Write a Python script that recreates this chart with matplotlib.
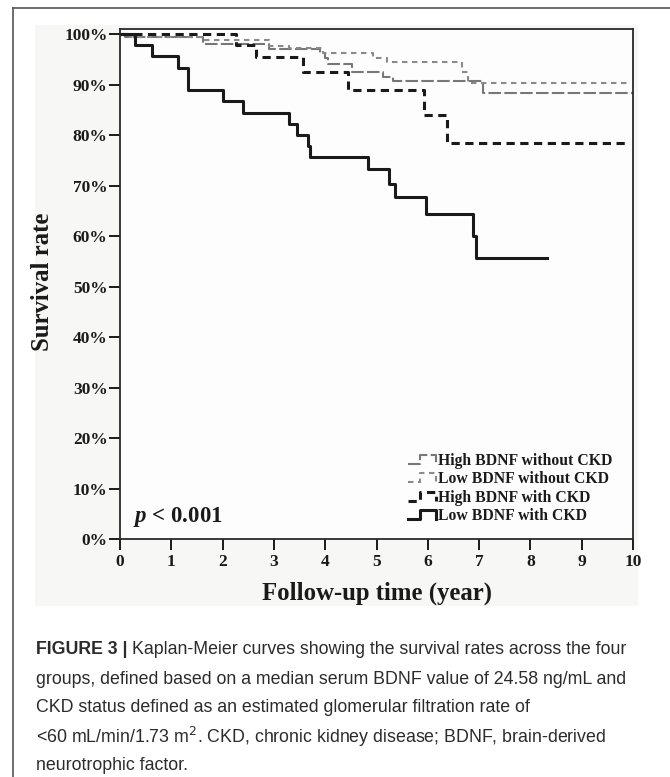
"""Kaplan-Meier survival curves by BDNF level and CKD status (Figure 3)."""

import matplotlib
matplotlib.use("Agg")
import matplotlib.pyplot as plt
from matplotlib.legend_handler import HandlerBase
from matplotlib.lines import Line2D
from matplotlib.patches import Rectangle

plt.rcParams["mathtext.fontset"] = "custom"
plt.rcParams["mathtext.bfit"] = "Liberation Serif:bold:italic"

# ---------------------------------------------------------------------------
# Data (time in years, survival in %)
# ---------------------------------------------------------------------------
high_no_ckd_t = [0, 0.10, 1.62, 2.91, 3.90, 3.99, 4.05, 4.52, 5.13, 5.33, 7.08, 10.0]
high_no_ckd_s = [100, 99.5, 98.0, 97.0, 96.2, 95.2, 94.0, 92.5, 91.5, 90.7, 88.4, 88.4]

low_no_ckd_t = [0, 0.20, 1.60, 2.90, 3.30, 3.95, 4.93, 5.20, 6.66, 6.79, 9.90]
low_no_ckd_s = [100, 99.4, 98.8, 97.7, 97.2, 96.2, 95.2, 94.5, 92.5, 90.4, 90.4]

high_ckd_t = [0, 2.27, 2.66, 3.57, 4.45, 5.93, 6.37, 9.90]
high_ckd_s = [100, 97.9, 95.5, 92.4, 89.0, 84.0, 78.4, 78.4]

low_ckd_t = [0, 0.29, 0.62, 1.14, 1.32, 2.00, 2.40, 3.30, 3.46, 3.67, 3.70,
             4.83, 5.24, 5.36, 5.97, 6.88, 6.93, 8.33]
low_ckd_s = [100, 97.8, 95.6, 93.3, 88.9, 86.7, 84.4, 82.2, 80.0, 77.8, 75.6,
             73.2, 70.4, 67.7, 64.4, 60.0, 55.7, 55.7]

group_labels = ["High BDNF without CKD", "Low BDNF without CKD",
                "High BDNF with CKD", "Low BDNF with CKD"]

x_ticks = list(range(0, 11))
y_ticks = list(range(0, 101, 10))

SERIF = ["Liberation Serif", "DejaVu Serif"]
SANS = ["Liberation Sans", "DejaVu Sans"]
INK = "#1a1a1a"


class StepHandler(HandlerBase):
    """Legend key drawn as a little step, like the SPSS output."""

    def create_artists(self, legend, orig_handle, xdescent, ydescent,
                       width, height, fontsize, trans):
        x0, y0 = -xdescent, -ydescent
        xm = x0 + 0.45 * width
        lo, hi = y0 + 0.15 * height, y0 + 0.85 * height
        line = Line2D([x0, xm, xm, x0 + width, x0 + width],
                      [lo, lo, hi, hi, lo])
        self.update_prop(line, orig_handle, legend)
        line.set_transform(trans)
        return [line]


fig = plt.figure(figsize=(6.70, 7.77), dpi=100)

# page frame + light panel behind the chart
fig.add_artist(Line2D([13 / 670, 1.0], [1 - 8 / 777, 1 - 8 / 777],
                      color="#555555", lw=1.2))
fig.add_artist(Line2D([13 / 670, 13 / 670], [0, 1 - 8 / 777],
                      color="#555555", lw=1.2))
fig.add_artist(Rectangle((35 / 670, 1 - 606 / 777), 603 / 670, 581 / 777,
                         facecolor="#f7f7f6", edgecolor="none", zorder=-5))

ax = fig.add_axes([120 / 670, 1 - 539 / 777, 513 / 670, 510 / 777])
ax.set_facecolor("#fdfdfd")

l1, = ax.step(high_no_ckd_t, high_no_ckd_s, where="post", color="#777777",
              lw=1.5, dashes=(6, 1.6), label=group_labels[0])
l2, = ax.step(low_no_ckd_t, low_no_ckd_s, where="post", color="#8a8a8a",
              lw=1.5, dashes=(2.6, 2.2), label=group_labels[1])
l3, = ax.step(high_ckd_t, high_ckd_s, where="post", color=INK,
              lw=2.2, dashes=(2.7, 1.8), label=group_labels[2])
l4, = ax.step(low_ckd_t, low_ckd_s, where="post", color=INK,
              lw=2.2, label=group_labels[3])

ax.set_xlim(0, 10)
ax.set_ylim(0, 101)
ax.set_xticks(x_ticks)
ax.set_yticks(y_ticks)
ax.set_yticklabels([f"{v}%" for v in y_ticks])
ax.tick_params(axis="both", direction="out", length=8, width=1.4, color=INK,
               labelsize=12.5, labelcolor=INK)
ax.tick_params(axis="y", pad=1)
ax.tick_params(axis="x", pad=3)
for lab in ax.get_xticklabels() + ax.get_yticklabels():
    lab.set_fontfamily(SERIF)
    lab.set_fontweight("bold")
for sp in ax.spines.values():
    sp.set_linewidth(1.3)
    sp.set_color("#2a2a2a")

ax.set_xlabel("Follow-up time (year)", fontsize=17.8, fontweight="bold",
              family=SERIF, color=INK, labelpad=8)
ax.set_ylabel("Survival rate", fontsize=17.8, fontweight="bold",
              family=SERIF, color=INK)
ax.yaxis.set_label_coords(-0.128, 0.505)

ax.text(0.025, 0.043, "$\\mathbfit{p}$ < 0.001", transform=ax.transAxes,
        fontsize=16.5, fontweight="bold", family=SERIF, color=INK,
        ha="left", va="center")

leg = ax.legend(handles=[l1, l2, l3, l4], loc="lower right",
                bbox_to_anchor=(0.96, 0.030), frameon=False,
                prop={"family": SERIF, "weight": "bold", "size": 11.3},
                handler_map={Line2D: StepHandler()},
                handlelength=1.8, handleheight=0.9, handletextpad=0.15,
                labelspacing=0.14, borderaxespad=0, borderpad=0)
for t in leg.get_texts():
    t.set_color(INK)

# ---- caption ------------------------------------------------------------
cap_x = 36 / 670
cap_lines = [
    "Kaplan-Meier curves showing the survival rates across the four",
    "groups, defined based on a median serum BDNF value of 24.58 ng/mL and",
    "CKD status defined as an estimated glomerular filtration rate of",
    "<60 mL/min/1.73 m$^2$. CKD, chronic kidney disease; BDNF, brain-derived",
    "neurotrophic factor.",
]
cap_y = [650, 679, 708, 737, 766]
cap_kw = dict(fontsize=12.8, family=SANS, color="#2b2b2b", va="center", ha="left")

head = fig.text(cap_x, 1 - cap_y[0] / 777, "FIGURE 3 | ", fontweight="bold", **cap_kw)
fig.canvas.draw()
bb = head.get_window_extent().transformed(fig.transFigure.inverted())
fig.text(bb.x1, 1 - cap_y[0] / 777, cap_lines[0], **cap_kw)
for line, y in zip(cap_lines[1:], cap_y[1:]):
    fig.text(cap_x, 1 - y / 777, line, **cap_kw)

fig.savefig("out.png", dpi=100)
